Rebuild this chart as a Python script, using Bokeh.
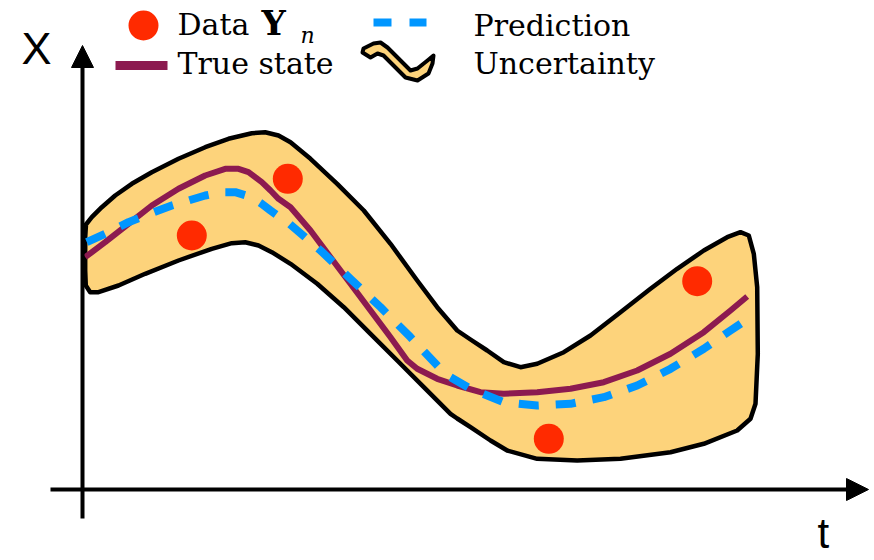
from bokeh.plotting import figure
from bokeh.models import Range1d, Arrow, NormalHead
from bokeh.core.properties import value
from bokeh.embed import file_html
from bokeh.resources import INLINE

# Observations Y_n
data_t = [10.93, 20.53, 46.63, 61.47]
data_x = [25.40, 31.07, 5.07, 20.83]

# True state trajectory
true_t = [0.27, 2.27, 4.60, 6.93, 9.60, 12.27, 14.27, 15.60, 16.60, 17.93, 18.80,
          19.60, 20.80, 22.80, 24.80, 26.80, 28.80, 30.80, 32.47, 33.47, 35.47,
          37.47, 39.80, 42.13, 45.47, 48.80, 52.13, 55.47, 58.80, 62.13, 64.80, 66.47]
true_x = [23.23, 24.73, 26.57, 28.40, 30.07, 31.40, 32.07, 32.07, 31.73, 30.73, 29.90,
          29.07, 28.23, 25.90, 23.23, 20.57, 17.90, 15.23, 12.90, 12.07, 11.07,
          10.40, 9.73, 9.57, 9.73, 10.07, 10.73, 11.90, 13.57, 15.73, 17.90, 19.30]

# Predicted trajectory
pred_t = [0.43, 2.27, 4.60, 6.27, 8.93, 12.27, 13.93, 15.27, 16.93, 17.93, 18.80,
          19.93, 20.60, 23.80, 26.80, 29.80, 32.80, 35.63, 36.80, 38.80, 42.13,
          45.47, 48.80, 52.13, 55.47, 58.80, 62.13, 64.80, 66.80]
pred_x = [24.73, 25.57, 26.73, 27.40, 28.40, 29.40, 29.73, 29.73, 29.23, 28.57, 27.90,
          27.07, 26.65, 23.90, 21.07, 18.23, 15.23, 12.23, 11.23, 10.07, 8.73,
          8.40, 8.57, 9.23, 10.40, 12.07, 14.07, 15.90, 17.23]

# Uncertainty region outline (upper edge left to right, then lower edge back)
band_t = [0.27, 0.35, 0.93, 1.93, 3.27, 4.93, 6.93, 9.60, 12.27, 14.60, 16.93, 18.27,
          19.60, 20.80, 22.80, 25.47, 28.13, 30.80, 33.47, 35.47, 37.47, 38.80,
          40.47, 42.13, 43.80, 45.47, 48.13, 50.80, 53.80, 56.80, 59.47, 62.13,
          64.47, 65.80, 66.63, 67.13, 67.47, 67.53, 67.30, 66.80, 65.47, 62.13,
          58.80, 53.80, 49.47, 45.47, 42.47, 40.80, 38.80, 37.47, 36.80, 34.13,
          31.47, 28.80, 26.13, 23.47, 20.80, 18.93, 17.60, 16.27, 14.93, 12.93,
          9.60, 6.27, 3.60, 1.60, 0.77, 0.33, 0.27]
band_x = [25.23, 26.50, 27.23, 28.23, 29.40, 30.57, 31.73, 33.07, 34.23, 35.07, 35.63, 35.73,
          35.40, 34.73, 33.07, 30.57, 27.90, 24.57, 20.90, 18.23, 15.90, 15.00,
          13.90, 12.73, 12.23, 12.57, 13.73, 15.40, 17.73, 20.07, 22.07, 23.90,
          25.23, 25.73, 25.40, 23.57, 20.23, 13.57, 8.57, 7.07, 5.90, 4.57,
          3.73, 3.07, 2.90, 3.07, 3.90, 4.90, 6.23, 7.10, 7.57, 10.23,
          12.90, 15.57, 18.23, 20.57, 22.57, 23.73, 24.40, 24.73, 24.63, 24.07,
          22.90, 21.57, 20.40, 19.73, 19.73, 20.40, 21.90]

legend_labels = ["Data", "True state", "Prediction", "Uncertainty"]

RED = "#FF2A00"
PURPLE = "#8C1A50"
BLUE = "#0096FF"
ORANGE = "#FDD37B"

W, H = 874, 560


# screen pixel -> data coordinates (legend and axis decorations)
def sx(px):
    return (px - 82) / 10


def sy(py):
    return (489 - py) / 10


def label(x_px, base_px, txt, font, size, style="normal"):
    # place a text by the pixel position of its alphabetic baseline
    p.text(x=[sx(x_px)], y=[sy(base_px - 0.38 * size)], text=[txt], text_font=font,
           text_font_size=f"{size}px", text_font_style=style,
           text_baseline="alphabetic", text_align="left", text_color="black")


p = figure(width=W, height=H, output_backend="svg", toolbar_location=None,
           x_range=Range1d(sx(0), sx(W)), y_range=Range1d(sy(H), sy(0)),
           min_border=0, outline_line_color=None, background_fill_color="white",
           border_fill_color="white")
p.axis.visible = False
p.grid.visible = False

# uncertainty band
p.patch(band_t, band_x, fill_color=ORANGE, line_color="black", line_width=4.5,
        line_join="round")

# true state and prediction
p.line(true_t, true_x, line_color=PURPLE, line_width=6, line_join="round")
p.line(pred_t, pred_x, line_color=BLUE, line_width=8, line_dash="20 17",
       line_join="round")

# observations
p.scatter(data_t, data_x, size=30, fill_color=RED, line_color=None)

# axes with arrow heads
p.add_layout(Arrow(x_start=sx(50), y_start=0, x_end=sx(868), y_end=0,
                   line_width=4, line_color="black",
                   end=NormalHead(size=22, fill_color="black", line_color="black")))
p.add_layout(Arrow(x_start=0, y_start=sy(518), x_end=0, y_end=sy(45),
                   line_width=4, line_color="black",
                   end=NormalHead(size=22, fill_color="black", line_color="black")))

sans = value("Liberation Sans")
serif = value("DejaVu Serif")

label(21, 65, "X", sans, 45)
label(817, 549, "t", sans, 42)

# legend
p.scatter([sx(143)], [sy(25)], size=30, fill_color=RED, line_color=None)
p.segment(x0=[sx(115)], y0=[sy(65)], x1=[sx(167)], y1=[sy(65)],
          line_color=PURPLE, line_width=9)
p.segment(x0=[sx(373), sx(409)], y0=[sy(22), sy(22)],
          x1=[sx(391), sx(426)], y1=[sy(22), sy(22)],
          line_color=BLUE, line_width=8)
icon_px = [(363, 48), (373, 43), (380, 42), (387, 47), (400, 60), (410, 70),
           (417, 68), (427, 60), (433, 55), (432, 63), (428, 73), (417, 80),
           (405, 77), (393, 65), (383, 55), (377, 53), (370, 57), (362, 52)]
p.patch([sx(a) for a, b in icon_px], [sy(b) for a, b in icon_px],
        fill_color=ORANGE, line_color="black", line_width=4, line_join="round")

for (lx, ly), txt in zip([(177, 35), (177, 74), (473, 36), (473, 74)], legend_labels):
    label(lx, ly, txt, serif, 30)
label(261, 35, "Y", serif, 34, "bold")
label(300, 43, "n", serif, 22, "italic")

open("out.html", "w").write(file_html(p, INLINE))
